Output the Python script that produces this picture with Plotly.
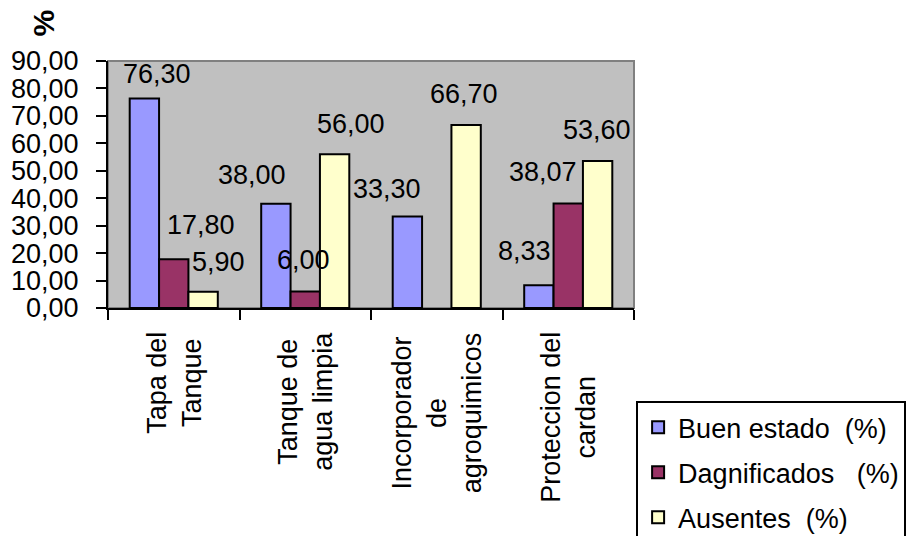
import plotly.graph_objects as go

categories = ["Tapa del<br>Tanque", "Tanque de<br>agua limpia",
              "Incorporador<br>de<br>agroquimicos", "Proteccion del<br>cardan"]
series_names = ["Buen estado\u00a0\u00a0(%)", "Dagnificados\u00a0\u00a0\u00a0(%)", "Ausentes\u00a0\u00a0(%)"]
buen_estado = [76.30, 38.00, 33.30, 8.33]
dagnificados = [17.80, 6.00, None, 38.07]
ausentes = [5.90, 56.00, 66.70, 53.60]
y_ticks = [0, 10, 20, 30, 40, 50, 60, 70, 80, 90]

colors = ["#9999FF", "#993366", "#FFFFCC"]
# pixel nudges for the data labels (style only), as in the original chart
label_dx = [[13, -24, -20, -14], [27, -2, 0, -25], [15, 16, -2, -1]]
label_dy = [[15, 19, 18, 24], [24, 22, 0, 22], [20, 20, 21, 21]]

FONT = "Liberation Sans, Arial, sans-serif"
FS = 27
BARGAP = 0.33

series = [buen_estado, dagnificados, ausentes]
x_idx = list(range(len(categories)))

fig = go.Figure()
for k, (name, vals) in enumerate(zip(series_names, series)):
    fig.add_trace(go.Bar(
        x=x_idx, y=vals, name=name, legendgroup=f"g{k}",
        marker=dict(color=colors[k], line=dict(color="black", width=2)),
        hoverinfo="skip",
    ))

bw = (1 - BARGAP) / len(series)
annotations = []
for k, vals in enumerate(series):
    for i, v in enumerate(vals):
        if v is None:
            continue
        annotations.append(dict(
            x=i + (k - 1) * bw, y=v, xref="x", yref="y",
            text=f"{v:.2f}".replace(".", ","), showarrow=False,
            xanchor="center", yanchor="bottom",
            xshift=label_dx[k][i], yshift=label_dy[k][i] - 7,
            font=dict(size=FS, color="black", family=FONT),
        ))

# category labels, rotated, lines centred
for i, c in enumerate(categories):
    annotations.append(dict(
        x=i, y=0, xref="x", yref="paper", text=c, showarrow=False,
        textangle=-90, align="center", xanchor="center", yanchor="top",
        yshift=-22, font=dict(size=FS, color="black", family=FONT),
    ))

# y-axis title "%"
annotations.append(dict(
    x=-0.122, y=1.155, xref="paper", yref="paper", text="<b>%</b>",
    showarrow=False, textangle=-90, xanchor="center", yanchor="middle",
    font=dict(size=30, color="black", family=FONT),
))

fig.update_layout(
    width=909, height=536,
    margin=dict(l=108, r=275, t=61, b=228, autoexpand=False),
    paper_bgcolor="white", plot_bgcolor="#C0C0C0",
    barmode="group", bargap=BARGAP, bargroupgap=0,
    font=dict(family=FONT, size=FS, color="black"),
    showlegend=True,
    legend=dict(
        x=1.004, y=-0.377, xanchor="left", yanchor="top",
        bgcolor="white", bordercolor="black", borderwidth=2,
        font=dict(size=FS, family=FONT, color="black"),
        tracegroupgap=7, traceorder="grouped",
    ),
    annotations=annotations,
    shapes=[dict(type="rect", xref="paper", yref="paper", x0=0, y0=0, x1=1, y1=1,
                 line=dict(color="#808080", width=2), layer="below")],
    xaxis=dict(
        type="linear", range=[-0.5, len(categories) - 0.5],
        tickvals=[i - 0.5 for i in range(len(categories) + 1)],
        showticklabels=False, ticks="outside", ticklen=10, tickwidth=2,
        tickcolor="black", showline=True, linecolor="black", linewidth=2,
        showgrid=False, zeroline=False, fixedrange=True,
    ),
    yaxis=dict(
        range=[0, 90], tickvals=y_ticks,
        ticktext=[f"{t:.2f}".replace(".", ",") for t in y_ticks],
        ticks="outside", ticklen=10, tickwidth=2, tickcolor="black",
        showline=True, linecolor="black", linewidth=2,
        showgrid=False, zeroline=False, ticklabelstandoff=12,
        tickfont=dict(size=FS, family=FONT, color="black"),
    ),
)

fig.write_html("out.html")
